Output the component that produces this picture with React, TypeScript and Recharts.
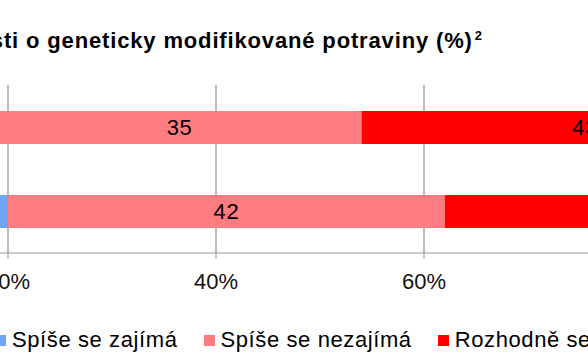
import { BarChart, Bar, XAxis, YAxis, CartesianGrid, LabelList } from "recharts";

// two survey waves, top bar first
const categories = ["2010", "2005"];
const rozhodneZajima = [4, 3];
const spiseZajima = [15, 17];
const spiseNezajima = [35, 42];
const rozhodneNezajima = [43, 35];

const seriesKeys = ["rz", "sz", "sn", "rn"];
const seriesNames = [
  "Rozhodně se zajímá",
  "Spíše se zajímá",
  "Spíše se nezajímá",
  "Rozhodně se nezajímá",
];
const seriesColors = ["#1f4fd8", "#6ea6f7", "#ff7c80", "#ff0000"];
const xTicks = [0, 20, 40, 60, 80, 100];

const data = categories.map((category, i) => ({
  category,
  rz: rozhodneZajima[i],
  sz: spiseZajima[i],
  sn: spiseNezajima[i],
  rn: rozhodneNezajima[i],
}));

const FONT = '"Liberation Sans", Arial, sans-serif';

export default function App() {
  return (
    <div
      style={{
        position: "absolute",
        left: 0,
        top: 0,
        width: 588,
        height: 363,
        overflow: "hidden",
        background: "#fff",
        fontFamily: FONT,
        color: "#000",
      }}
    >
      {/* title, cropped on the left like the source picture */}
      <div
        style={{
          position: "absolute",
          right: 106,
          top: 30,
          fontSize: 22,
          fontWeight: "bold",
          lineHeight: "22px",
          letterSpacing: 0.85,
          whiteSpace: "nowrap",
        }}
      >
        Zájem veřejnosti o geneticky modifikované potraviny (%)
        <sup style={{ fontSize: 13, lineHeight: 0, letterSpacing: 0, marginLeft: 2 }}>2</sup>
      </div>

      <div style={{ position: "absolute", left: -260, top: 0 }}>
        <BarChart
          width={1120}
          height={363}
          data={data}
          layout="vertical"
          margin={{ top: 85, right: 20, left: 60, bottom: 70 }}
          barSize={33}
        >
          <CartesianGrid horizontal={false} stroke="#999" strokeWidth={1.3} />
          <XAxis
            type="number"
            domain={[0, 100]}
            ticks={xTicks}
            interval={0}
            tickFormatter={(v) => `${v}%`}
            height={40}
            stroke="#999"
            tickSize={6}
            tickMargin={14}
            tick={{ fill: "#111", fontSize: 22, fontFamily: FONT }}
          />
          <YAxis type="category" dataKey="category" hide />
          {seriesKeys.map((key, i) => (
            <Bar
              key={key}
              dataKey={key}
              name={seriesNames[i]}
              stackId="a"
              fill={seriesColors[i]}
              isAnimationActive={false}
            >
              <LabelList
                dataKey={key}
                position="center"
                fill="#000"
                fontSize={22}
                fontFamily={FONT}
                letterSpacing={0.6}
              />
            </Bar>
          ))}
        </BarChart>
      </div>

      {/* legend */}
      <div
        style={{
          position: "absolute",
          left: -5,
          top: 329,
          display: "flex",
          alignItems: "center",
          fontSize: 22,
          lineHeight: "22px",
          letterSpacing: 0.6,
          whiteSpace: "nowrap",
        }}
      >
        {seriesNames.map((name, i) => (
          <div
            key={name}
            style={{
              display: "flex",
              alignItems: "center",
              marginRight: 26,
              ...(i === 0 ? { position: "absolute", right: "100%" } : {}),
            }}
          >
            <span
              style={{
                display: "inline-block",
                width: 11,
                height: 11,
                background: seriesColors[i],
                marginRight: 6,
              }}
            />
            <span>{name}</span>
          </div>
        ))}
      </div>
    </div>
  );
}
